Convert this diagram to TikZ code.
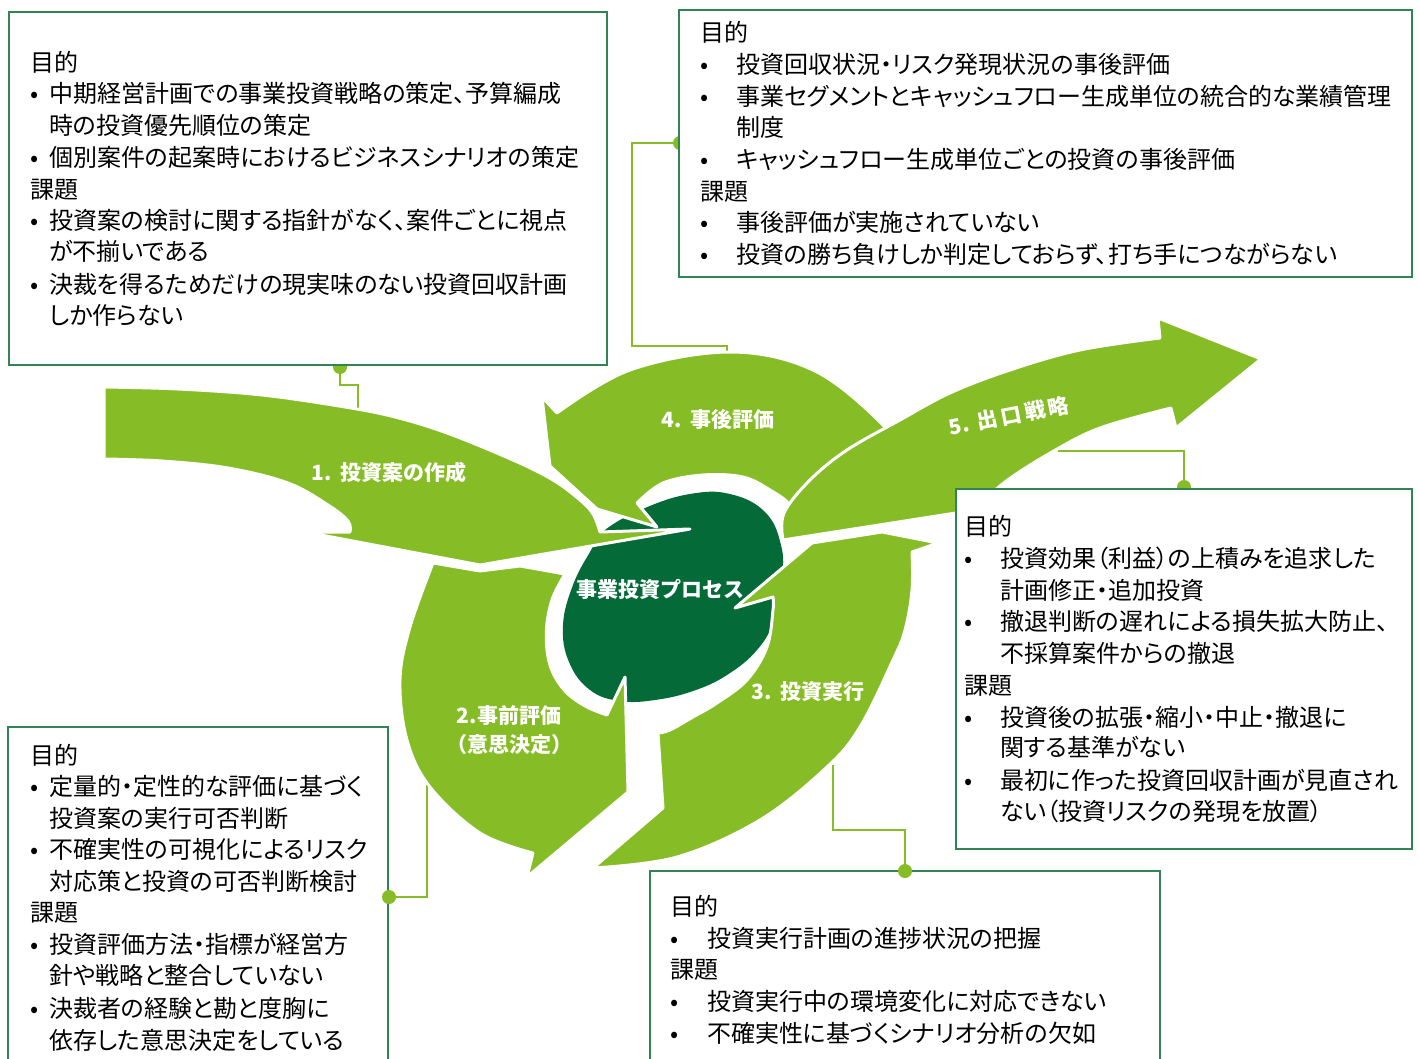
\documentclass[tikz,border=0pt]{standalone}
\usepackage{fontspec}
\setmainfont{Noto Sans CJK JP}
\definecolor{lg}{RGB}{134,188,37}
\definecolor{dg}{RGB}{4,106,56}
\definecolor{bd}{RGB}{49,133,84}
\newcommand{\mybul}[1]{\makebox[#1pt][l]{•}}
\newcommand{\txtline}[4]{\node[ln] (#1) at (#2,#3) {#4};}
\begin{document}
\begin{tikzpicture}[x=1pt,y=-1pt,
  ln/.style={anchor=west,inner sep=0pt,text height=21.1pt,text depth=2.9pt,font=\fontsize{24}{28}\selectfont\addfontfeature{RawFeature=+palt}},
  lab/.style={text=white,inner sep=0pt,font=\fontsize{21}{25}\selectfont\bfseries},
  arr/.style={fill=lg,draw=white,line width=3pt,line join=round},
  conn/.style={draw=lg,line width=2.5pt},
  dotst/.style={fill=lg},
  boxst/.style={draw=bd,line width=1.3pt,fill=white}]
\clip (0,0) rectangle (1419,1059);
\fill[white] (0,0) rectangle (1419,1059);

% connector coordinates
\coordinate (d1) at (340,367); \coordinate (e1) at (358,412);
\coordinate (d2) at (680,143); \coordinate (e2) at (727,360);
\coordinate (d3) at (1184,487); \coordinate (e3) at (1058,451);
\coordinate (d4) at (389,897); \coordinate (e4) at (427,775);
\coordinate (d5) at (905,871); \coordinate (e5) at (833,765);

% connectors (under arrows)
\draw[conn] (d1) -- ++(0,18) -| (e1);
\draw[conn] (d2) -- (632,143) -- (632,346) -| (e2);
\draw[conn] (d3) |- (e3);
\draw[conn] (d4) -| (e4);
\draw[conn] (d5) -- (905,830) -| (e5);

% dark centre
\path[fill=dg] plot[smooth cycle,tension=0.7] coordinates {(605,530) (645,508) (690,494) (730,494) (765,512) (781,545) (782,580) (774,620) (757,650) (727,675) (693,691) (655,700) (620,701) (590,690) (569,662) (563,625) (573,585) (590,552)};

% arrow 4
\path[arr] (557,413) -- plot[smooth,tension=0.6] coordinates {(557,413) (630,370) (730,352) (813,370) (880,422) (905,460)}
  -- (800,528) -- plot[smooth,tension=0.6] coordinates {(800,528) (790,505) (770,490) (743,477) (703,475) (663,483) (637,503)}
  -- (657,527) -- (597,509) -- (550,466) -- (542,397) -- cycle;

% arrow 1
\path[arr] (104,387) -- plot[smooth,tension=0.6] coordinates {(104,387) (178,389) (262,395) (345,407) (395,417) (447,433) (513,460) (553,480) (580,500) (593,514) (600,532)}
  -- (690,529) -- (480,565) -- (305,532) -- (350,532)
  -- plot[smooth,tension=0.6] coordinates {(350,532) (348,521) (328,505) (288,483) (228,468) (162,461) (104,459)} -- cycle;

% arrow 2
\path[arr] (433,563) -- (480,571) -- (520,566) -- (565,574)
  -- plot[smooth,tension=0.6] coordinates {(565,574) (553,597) (547,623) (547,650) (553,673) (567,693) (587,707) (607,715)}
  -- (625,677) -- (628,792) -- (527,877) -- (533,853)
  -- plot[smooth,tension=0.6] coordinates {(533,853) (480,833) (430,787) (407,740) (400,680) (410,627) (433,563)} -- cycle;

% arrow 3
\path[arr] (593,868) -- (663,808) -- (658,733)
  -- plot[smooth,tension=0.6] coordinates {(658,733) (670,730) (693,717) (717,703) (747,680) (767,647) (773,610) (773,597)}
  -- (735,608) -- (812,543) -- (882,532) -- (938,543) -- (912,552)
  -- plot[smooth,tension=0.6] coordinates {(912,552) (912,590) (905,630) (893,660) (860,727) (827,767) (760,820) (677,857) (593,868)} -- cycle;

% arrow 5
\path[arr] (783,540) -- plot[smooth,tension=0.6] coordinates {(783,540) (784,513) (810,480) (847,450) (900,420) (950,393) (1010,370) (1080,350) (1160,338)}
  -- (1158,318) -- (1261,359) -- (1176,428) -- (1171,408)
  -- plot[smooth,tension=0.6] coordinates {(1171,408) (1100,428) (1052,452) (1005,482) (975,510)} -- cycle;

% dots under boxes
\fill[dotst] (d1) circle (7);
\fill[dotst] (d2) circle (7);
\fill[dotst] (d3) circle (7);

% boxes
\path[boxst] (9,12) rectangle (607,365);
\path[boxst] (679,10) rectangle (1412,277);
\path[boxst] (956,489) rectangle (1412,849);
\path[boxst] (8,727) rectangle (388,1070);
\path[boxst] (650,871) rectangle (1160,1070);

% dots over boxes
\fill[dotst] (d4) circle (7);
\fill[dotst] (d5) circle (7);

% arrow labels
\node[lab] (l1) at (389,472) {1.\hspace{0.4em}投資案の作成};
\node[lab] (l4) at (718,420) {4.\hspace{0.4em}事後評価};
\node[lab] (l2a) at (509,716) {2.事前評価};
\node[lab] (l2b) at (509,745) {（意思決定）};
\node[lab] (l3) at (808,692) {3.\hspace{0.4em}投資実行};
\node[lab] (l5) at (1009,416) [rotate=11] {5.\hspace{0.4em}出\hspace{3pt}口\hspace{3pt}戦\hspace{3pt}略};
\node[lab] (lc) at (660,589) {事業投資プロセス};

% box 1 text
\txtline{a1}{30}{62}{目的}
\txtline{a2}{30}{93}{\mybul{19}中期経営計画での事業投資戦略の策定、予算編成}
\txtline{a3}{49}{125}{時の投資優先順位の策定}
\txtline{a4}{30}{157}{\mybul{19}個別案件の起案時におけるビジネスシナリオの策定}
\txtline{a5}{30}{189}{課題}
\txtline{a6}{30}{220}{\mybul{19}投資案の検討に関する指針がなく、案件ごとに視点}
\txtline{a7}{49}{251}{が不揃いである}
\txtline{a8}{30}{284}{\mybul{19}決裁を得るためだけの現実味のない投資回収計画}
\txtline{a9}{49}{315}{しか作らない}

% box 2 text
\txtline{b1}{700}{32}{目的}
\txtline{b2}{700}{64}{\mybul{36}投資回収状況・リスク発現状況の事後評価}
\txtline{b3}{700}{96}{\mybul{36}事業セグメントとキャッシュフロー生成単位の統合的な業績管理}
\txtline{b4}{736}{127}{制度}
\txtline{b5}{700}{159}{\mybul{36}キャッシュフロー生成単位ごとの投資の事後評価}
\txtline{b6}{700}{191}{課題}
\txtline{b7}{700}{222}{\mybul{36}事後評価が実施されていない}
\txtline{b8}{700}{254}{\mybul{36}投資の勝ち負けしか判定しておらず、打ち手につながらない}

% box 3 text
\txtline{c1}{964}{526}{目的}
\txtline{c2}{964}{558}{\mybul{36}投資効果（利益）の上積みを追求した}
\txtline{c3}{1000}{590}{計画修正・追加投資}
\txtline{c4}{964}{621}{\mybul{36}撤退判断の遅れによる損失拡大防止、}
\txtline{c5}{1000}{653}{不採算案件からの撤退}
\txtline{c6}{964}{685}{課題}
\txtline{c7}{964}{717}{\mybul{36}投資後の拡張・縮小・中止・撤退に}
\txtline{c8}{1000}{747}{関する基準がない}
\txtline{c9}{964}{780}{\mybul{36}最初に作った投資回収計画が見直され}
\txtline{c10}{1000}{811}{ない（投資リスクの発現を放置）}

% box 4 text
\txtline{f1}{30}{755}{目的}
\txtline{f2}{30}{786}{\mybul{19}定量的・定性的な評価に基づく}
\txtline{f3}{49}{818}{投資案の実行可否判断}
\txtline{f4}{30}{849}{\mybul{19}不確実性の可視化によるリスク}
\txtline{f5}{49}{881}{対応策と投資の可否判断検討}
\txtline{f6}{30}{912}{課題}
\txtline{f7}{30}{944}{\mybul{19}投資評価方法・指標が経営方}
\txtline{f8}{49}{975}{針や戦略と整合していない}
\txtline{f9}{30}{1008}{\mybul{19}決裁者の経験と勘と度胸に}
\txtline{f10}{49}{1040}{依存した意思決定をしている}

% box 5 text
\txtline{g1}{670}{906}{目的}
\txtline{g2}{670}{938}{\mybul{37}投資実行計画の進捗状況の把握}
\txtline{g3}{670}{969}{課題}
\txtline{g4}{670}{1001}{\mybul{37}投資実行中の環境変化に対応できない}
\txtline{g5}{670}{1033}{\mybul{37}不確実性に基づくシナリオ分析の欠如}
\end{tikzpicture}
\end{document}
